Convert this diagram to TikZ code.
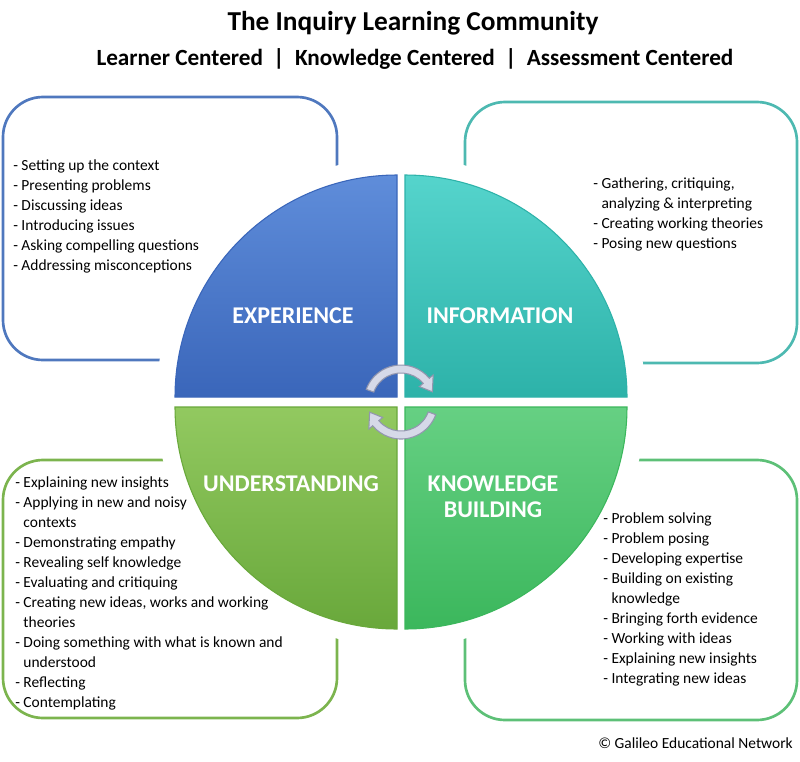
\documentclass[tikz,border=0pt]{standalone}
\usepackage{fontspec}
\setmainfont{Carlito}
\usetikzlibrary{arrows.meta}

\definecolor{expTop}{HTML}{5F8DDA}
\definecolor{expBot}{HTML}{3A66BA}
\definecolor{expLine}{HTML}{4F78BE}
\definecolor{infTop}{HTML}{55D4CC}
\definecolor{infBot}{HTML}{2DB2A9}
\definecolor{infLine}{HTML}{4DB9B1}
\definecolor{undTop}{HTML}{92C960}
\definecolor{undBot}{HTML}{69A83B}
\definecolor{undLine}{HTML}{7CB44E}
\definecolor{knwTop}{HTML}{66D083}
\definecolor{knwBot}{HTML}{3BB75C}
\definecolor{knwLine}{HTML}{5DC077}
\definecolor{cycFill}{HTML}{D6D9E8}
\definecolor{cycEdge}{HTML}{9296AE}

\begin{document}
\begin{tikzpicture}[x=0.75pt,y=-0.75pt,
  frame/.style={rounded corners=30pt,line width=2pt},
  quad/.style={line width=0.8pt},
  lbl/.style={text=white,font=\fontsize{18}{20}\selectfont\bfseries,align=center,inner sep=0pt},
  items/.style={anchor=north west,align=left,inner sep=0pt,font=\fontsize{11.6}{15}\selectfont},
  cyc/.style={fill=cycFill,draw=cycEdge,line width=0.8pt}]
  \useasboundingbox (0,0) rectangle (800,761);

  % heading
  \node[anchor=base,font=\fontsize{20.5}{24}\selectfont\bfseries] (title) at (413,30) {The Inquiry Learning Community};
  \node[anchor=base,font=\fontsize{17.4}{20}\selectfont\bfseries] (sub) at (415,65) {Learner Centered \ | \ Knowledge Centered \ | \ Assessment Centered};

  % outer boxes, partly hidden behind the circle
  \draw[frame,expLine] (3,97) rectangle (337,360);
  \draw[frame,infLine] (465,102) rectangle (797,363);
  \draw[frame,undLine] (3,460) rectangle (337,718);
  \draw[frame,knwLine] (465,460) rectangle (797,720);
  \fill[white] (401,402) circle (245);

  % quadrants
  \path[quad,draw=expBot,top color=expTop,bottom color=expBot] (397,397) -- (175,397) arc[start angle=180,end angle=270,radius=222] -- cycle;
  \path[quad,draw=infBot,top color=infTop,bottom color=infBot] (405,397) -- (405,175) arc[start angle=270,end angle=360,radius=222] -- cycle;
  \path[quad,draw=knwBot,top color=knwTop,bottom color=knwBot] (405,407) -- (627,407) arc[start angle=0,end angle=90,radius=222] -- cycle;
  \path[quad,draw=undBot,top color=undTop,bottom color=undBot] (397,407) -- (397,629) arc[start angle=90,end angle=180,radius=222] -- cycle;

  \node[lbl,anchor=base] (exp) at (293,323) {EXPERIENCE};
  \node[lbl,anchor=base] (inf) at (500,323) {INFORMATION};
  \node[lbl,anchor=base] (und) at (291,491) {UNDERSTANDING};
  \node[lbl,anchor=north,font=\fontsize{18}{19.5}\selectfont\bfseries] (knw) at (493,475) {KNOWLEDGE\\BUILDING};

  % cycle arrows
  \begin{scope}[shift={(401,402)}]
    \filldraw[cyc] (-160:37) arc[start angle=-160,end angle=-40,radius=37] -- (-40:42) -- (-18:33) -- (-40:24) -- (-40:29) arc[start angle=-40,end angle=-160,radius=29] -- cycle;
    \filldraw[cyc] (20:37) arc[start angle=20,end angle=140,radius=37] -- (140:42) -- (162:33) -- (140:24) -- (140:29) arc[start angle=140,end angle=20,radius=29] -- cycle;
  \end{scope}

  % lists
  \node[items] (expList) at (13,159) {- Setting up the context\\- Presenting problems\\- Discussing ideas\\- Introducing issues\\- Asking compelling questions\\- Addressing misconceptions};
  \node[items] (infList) at (593,177) {- Gathering, critiquing,\\\phantom{- }analyzing \& interpreting\\- Creating working theories\\- Posing new questions};
  \node[items] (undList) at (15,476) {- Explaining new insights\\- Applying in new and noisy\\\phantom{- }contexts\\- Demonstrating empathy\\- Revealing self knowledge\\- Evaluating and critiquing\\- Creating new ideas, works and working\\\phantom{- }theories\\- Doing something with what is known and\\\phantom{- }understood\\- Reflecting\\- Contemplating};
  \node[items] (knwList) at (603,512) {- Problem solving\\- Problem posing\\- Developing expertise\\- Building on existing\\\phantom{- }knowledge\\- Bringing forth evidence\\- Working with ideas\\- Explaining new insights\\- Integrating new ideas};

  \node[items,anchor=north east] (copy) at (793,737) {© Galileo Educational Network};
\end{tikzpicture}
\end{document}
